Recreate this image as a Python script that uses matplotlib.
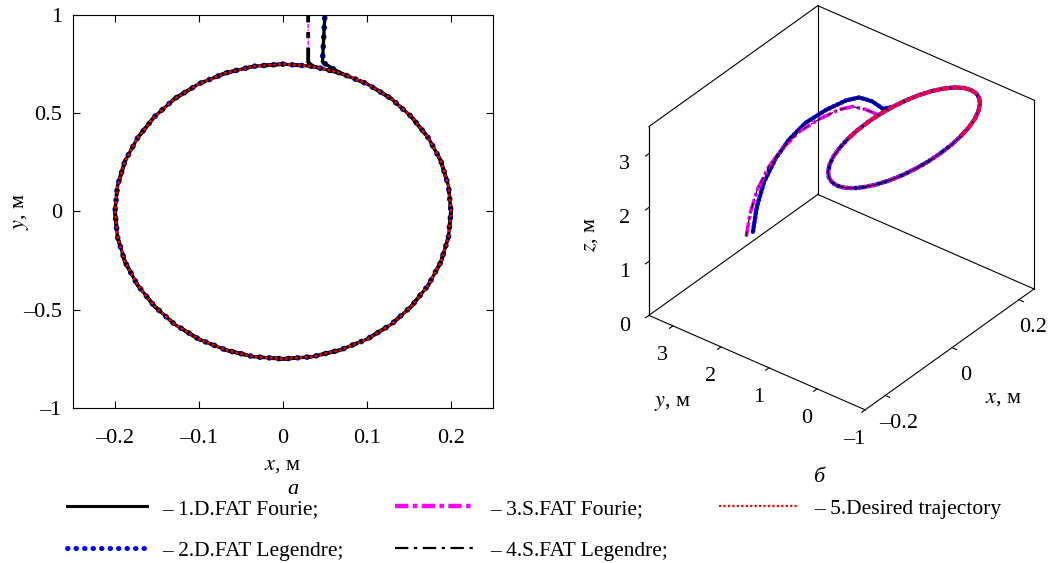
import numpy as np
import matplotlib
matplotlib.use("Agg")
import matplotlib.pyplot as plt

plt.rcParams['font.family'] = ['Liberation Serif', 'DejaVu Serif']
plt.rcParams['mathtext.fontset'] = 'stix'

# desired trajectory: ellipse, one point every 10 degrees
ell_x = [0.2, 0.197, 0.188, 0.173, 0.153, 0.129, 0.1, 0.068, 0.035, 0.0,
         -0.035, -0.068, -0.1, -0.129, -0.153, -0.173, -0.188, -0.197, -0.2,
         -0.197, -0.188, -0.173, -0.153, -0.129, -0.1, -0.068, -0.035, 0.0,
         0.035, 0.068, 0.1, 0.129, 0.153, 0.173, 0.188, 0.197, 0.2]
ell_y = [0.0, 0.13, 0.257, 0.375, 0.482, 0.574, 0.65, 0.705, 0.739, 0.75,
         0.739, 0.705, 0.65, 0.574, 0.482, 0.375, 0.257, 0.13, 0.0,
         -0.13, -0.257, -0.375, -0.482, -0.574, -0.65, -0.705, -0.739, -0.75,
         -0.739, -0.705, -0.65, -0.574, -0.482, -0.375, -0.257, -0.13, 0.0]
ell_z = 3.5

# approach arcs (before reaching the ellipse)
tail_y = [3.5, 3.42, 3.27, 3.03, 2.75, 2.40, 1.98, 1.56, 1.29, 1.01, 0.76]
tail_z_s = [0.17, 0.63, 1.13, 1.65, 2.09, 2.54, 2.94, 3.28, 3.44, 3.5, 3.5]
tail_z_d = [0.17, 0.66, 1.18, 1.71, 2.17, 2.62, 3.02, 3.36, 3.52, 3.56, 3.53]
tail_x_d = [0.051, 0.051, 0.051, 0.051, 0.051, 0.051, 0.051, 0.051, 0.051, 0.05, 0.047]
tail_x_s = [0.031, 0.031, 0.031, 0.031, 0.031, 0.031, 0.031, 0.031, 0.031, 0.03, 0.03]
join_d = 7   # ellipse index where D.FAT joins
join_s = 8   # ellipse index where S.FAT joins

labels = ['– 1.D.FAT Fourie;', '– 2.D.FAT Legendre;', '– 3.S.FAT Fourie;',
          '– 4.S.FAT Legendre;', '– 5.Desired trajectory']


def trajectory(tx, ty, tz, j):
    ex = ell_x[j:] + ell_x[1:j + 1]
    ey = ell_y[j:] + ell_y[1:j + 1]
    x = np.array(tx + ex)
    y = np.array(ty + ey)
    z = np.array(tz + [ell_z] * len(ex))
    return x, y, z


dx, dy, dz = trajectory(tail_x_d, tail_y, tail_z_d, join_d)
sx, sy, sz = trajectory(tail_x_s, tail_y, tail_z_s, join_s)
ex, ey = np.array(ell_x), np.array(ell_y)
ez = np.full(len(ex), ell_z)

st_blue = dict(color='#0000ff', lw=3.6, ls=(0, (0.1, 1.6)), dash_capstyle='round')
st_black = dict(color='k', lw=2.2, ls='-')
st_mag = dict(color='#ff00ff', lw=3.2, ls=(0, (3, 1, 1, 1)))
st_bdd = dict(color='k', lw=1.6, ls=(0, (6, 2.5, 1.5, 2.5)))
st_red = dict(color='#ff0000', lw=1.6, ls=(0, (1, 1)))

fig = plt.figure(figsize=(10.62, 5.63), dpi=100)

# ---- a) x-y plane
ax = fig.add_axes([0.0687, 0.2753, 0.3955, 0.6981])
ax.plot(sx, sy, **dict(st_mag, lw=1.0))
ax.plot(dx, dy, **dict(st_blue, lw=4.0))
ax.plot(dx, dy, **dict(st_black, lw=2.4))
ax.plot(sx, sy, **dict(st_bdd, lw=2.8))
ax.plot(ex, ey, **dict(st_red, lw=1.8))
ax.set_xlim(-0.25, 0.25)
ax.set_ylim(-1, 1)
ax.set_xticks([-0.2, -0.1, 0, 0.1, 0.2])
ax.set_xticklabels(['–0.2', '–0.1', '0', '0.1', '0.2'])
ax.set_yticks([-1, -0.5, 0, 0.5, 1])
ax.set_yticklabels(['–1', '–0.5', '0', '0.5', '1'])
ax.tick_params(direction='in', top=True, right=True, length=5, width=0.8,
               labelsize=16)
ax.tick_params(axis='x', pad=15)
ax.tick_params(axis='y', pad=8)
for s in ax.spines.values():
    s.set_linewidth(0.8)
ax.set_xlabel('$x$, м', fontsize=16, labelpad=6)
ax.set_ylabel('$y$, м', fontsize=16, labelpad=-6)
fig.text(0.276, 0.131, 'а', fontsize=16, style='italic', ha='center', va='center')

# ---- b) 3D view
ax3 = fig.add_axes([0.551, 0.169, 0.47, 0.9], projection='3d',
                   computed_zorder=False)
ax3.set_proj_type('ortho')
ax3.view_init(elev=34, azim=-142)
ax3.set_box_aspect((1, 1, 0.83), zoom=0.875)
ax3.set_xlim(-0.26, 0.245)
ax3.set_ylim(-1, 3.5)
ax3.set_zlim(0, 3.5)

# box outline (MATLAB style: the three back planes)
x0, x1 = ax3.get_xlim()
y0, y1 = ax3.get_ylim()
z0, z1 = ax3.get_zlim()
box = [([x1, x1], [y1, y1], [z0, z1]), ([x0, x0], [y1, y1], [z0, z1]),
       ([x1, x1], [y0, y0], [z0, z1]), ([x0, x1], [y1, y1], [z1, z1]),
       ([x1, x1], [y0, y1], [z1, z1]), ([x0, x1], [y1, y1], [z0, z0]),
       ([x1, x1], [y0, y1], [z0, z0])]
for bx, by, bz in box:
    ax3.plot(bx, by, bz, color='k', lw=0.8, zorder=0)

back = list(range(29, 37)) + list(range(0, 12))
front = list(range(11, 30))
ax3.plot(ex[front], ey[front], ez[front], zorder=1, **st_red)
ax3.plot(dx, dy, dz, zorder=2, **dict(st_blue, lw=3.2, ls=(0, (0.4, 0.6))))
ax3.plot(sx, sy, sz, zorder=3, **dict(st_mag, lw=2.6, ls=(0, (4, 0.8, 1, 0.8))))
ax3.plot(dx, dy, dz, zorder=4, **dict(st_black, lw=1.3, alpha=0.7))
ax3.plot(sx, sy, sz, zorder=5, **dict(st_bdd, lw=0.8))
ax3.plot(ex[back], ey[back], ez[back], zorder=6,
         **dict(st_red, lw=2.8, ls=(0, (2, 0.5)), color='#f0003c'))

ax3.set_xticks([-0.2, 0, 0.2])
ax3.set_xticklabels(['–0.2', '0', '0.2'])
ax3.set_yticks([-1, 0, 1, 2, 3])
ax3.set_yticklabels(['–1', '0', '1', '2', '3'])
ax3.set_zticks([0, 1, 2, 3])
ax3.grid(False)
for a in (ax3.xaxis, ax3.yaxis, ax3.zaxis):
    a.set_pane_color((1, 1, 1, 1))
    a.pane.set_edgecolor((1, 1, 1, 0))
    a.line.set_color('k')
    a.line.set_linewidth(0.8)
    a._axinfo['tick']['inward_factor'] = 0.25
    a._axinfo['tick']['outward_factor'] = 0.0
    a._axinfo['tick']['color'] = 'k'
ax3.tick_params(labelsize=16, pad=4)

fig.text(0.556, 0.583, '$z$, м', fontsize=16, rotation=90, ha='center', va='center')
fig.text(0.633, 0.284, '$y$, м', fontsize=16, ha='center', va='center')
fig.text(0.945, 0.293, '$x$, м', fontsize=16, ha='center', va='center')
fig.text(0.771, 0.151, 'б', fontsize=16, style='italic', ha='center', va='center')

# ---- legend
handles = [plt.Line2D([], [], **st_black), plt.Line2D([], [], **st_blue),
           plt.Line2D([], [], **st_mag), plt.Line2D([], [], **st_bdd),
           plt.Line2D([], [], **st_red)]
fig.legend(handles, labels, loc='lower left', bbox_to_anchor=(0.045, -0.03),
           ncol=3, frameon=False, fontsize=15.5, handlelength=3.7,
           handletextpad=0.7, columnspacing=2.4, labelspacing=1.0)

fig.savefig('out.png', dpi=100)
